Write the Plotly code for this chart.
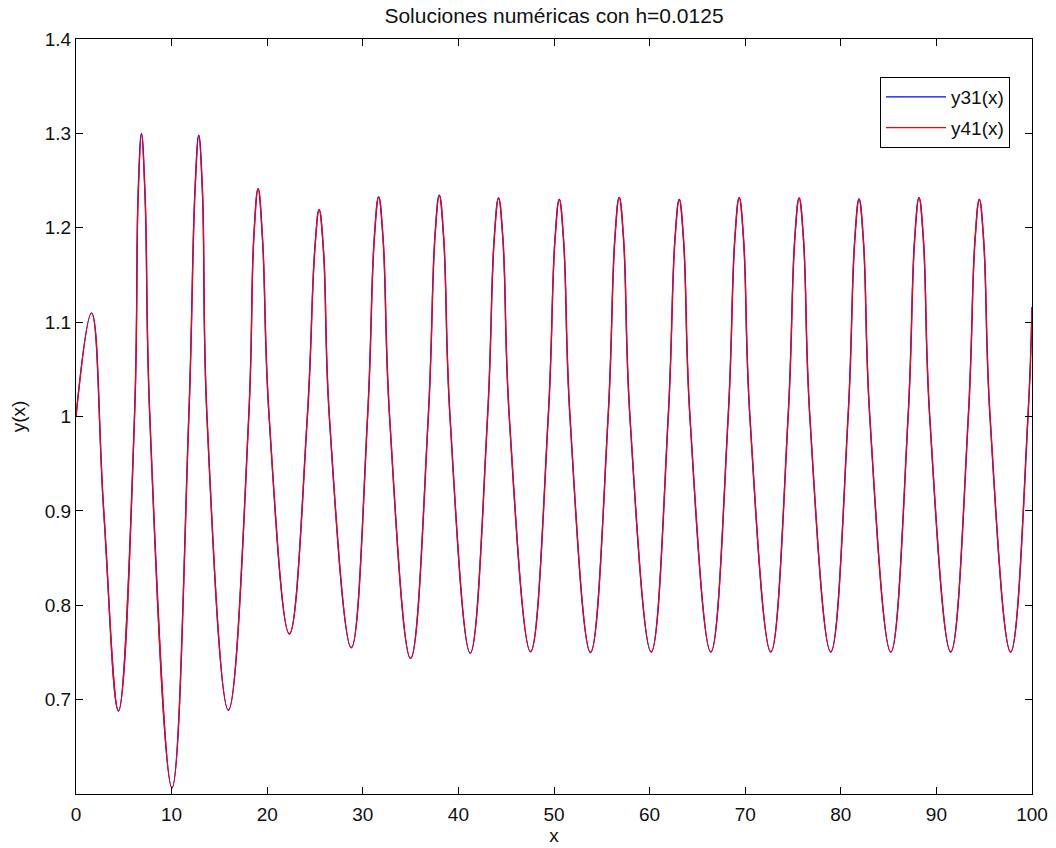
import plotly.graph_objects as go

# Points: extrema, shoulders near the peaks and 1.0-level crossings
x_vals = [0.0, 1.62, 2.9, 4.44,
          6.12, 6.5, 6.85, 7.22, 7.72, 10.04,
          11.8, 12.45, 12.84, 13.22, 13.7, 15.94,
          18.07, 18.6, 19.05, 19.5, 20.2, 22.32,
          24.2, 24.98, 25.43, 25.88, 26.5, 28.80,
          30.5, 31.21, 31.66, 32.11, 32.8, 35.0,
          36.85, 37.55, 38.0, 38.45, 39.12, 41.24,
          43.05, 43.75, 44.2, 44.65, 45.32, 47.55,
          49.4, 50.1, 50.55, 51.0, 51.67, 53.82,
          55.66, 56.37, 56.82, 57.27, 57.94, 60.17,
          61.95, 62.65, 63.1, 63.55, 64.22, 66.41,
          68.22, 68.92, 69.37, 69.82, 70.49, 72.68,
          74.49, 75.19, 75.64, 76.09, 76.76, 78.95,
          80.76, 81.46, 81.91, 82.36, 83.03, 85.23,
          87.04, 87.73, 88.18, 88.63, 89.3, 91.5,
          93.34, 94.04, 94.49, 94.94, 95.61, 97.77,
          99.58, 100.0]
y31_vals = [1.0, 1.1095, 0.90, 0.688,
            1.0, 1.235, 1.2998, 1.235, 1.0, 0.6066,
            1.0, 1.24, 1.298, 1.24, 1.0, 0.689,
            1.0, 1.19, 1.2415, 1.19, 1.0, 0.7696,
            1.0, 1.177, 1.2192, 1.177, 1.0, 0.755,
            1.0, 1.19, 1.2326, 1.19, 1.0, 0.7437,
            1.0, 1.191, 1.2344, 1.191, 1.0, 0.7494,
            1.0, 1.189, 1.2315, 1.189, 1.0, 0.7508,
            1.0, 1.187, 1.2301, 1.187, 1.0, 0.750,
            1.0, 1.189, 1.2322, 1.189, 1.0, 0.7505,
            1.0, 1.187, 1.230, 1.187, 1.0, 0.7505,
            1.0, 1.189, 1.2319, 1.189, 1.0, 0.7505,
            1.0, 1.189, 1.2315, 1.189, 1.0, 0.7505,
            1.0, 1.187, 1.2304, 1.187, 1.0, 0.7505,
            1.0, 1.189, 1.2319, 1.189, 1.0, 0.7505,
            1.0, 1.187, 1.2301, 1.187, 1.0, 0.7505,
            1.0, 1.116]
# the two numerical solutions coincide at this scale
y41_vals = list(y31_vals)

x_ticks = [0, 10, 20, 30, 40, 50, 60, 70, 80, 90, 100]
y_ticks = [0.7, 0.8, 0.9, 1.0, 1.1, 1.2, 1.3, 1.4]
y_tick_text = ["0.7", "0.8", "0.9", "1", "1.1", "1.2", "1.3", "1.4"]

FONT = "Liberation Sans, Arial, sans-serif"

fig = go.Figure()
fig.add_trace(go.Scatter(x=x_vals, y=y31_vals, mode="lines", name="y31(x)",
                         legendgroup="a",
                         line=dict(color="#0000ff", width=1.4, shape="spline", smoothing=1.2)))
fig.add_trace(go.Scatter(x=x_vals, y=y41_vals, mode="lines", name="y41(x)",
                         legendgroup="b",
                         line=dict(color="#ff0000", width=1.25, shape="spline", smoothing=1.2)))

axis_common = dict(showgrid=False, zeroline=False, showline=True, linecolor="black",
                   linewidth=1, mirror="ticks", ticks="inside", ticklen=7,
                   tickcolor="black", tickwidth=1, automargin=False,
                   tickfont=dict(family=FONT, size=19, color="#111"))

fig.update_layout(
    width=1056, height=848,
    margin=dict(l=76, r=24, t=39, b=54),
    paper_bgcolor="white", plot_bgcolor="white",
    title=dict(text="Soluciones numéricas con h=0.0125", x=0.5, xref="paper",
               y=0.981, yanchor="middle",
               font=dict(family=FONT, size=21, color="#111")),
    xaxis=dict(range=[0, 100], tickvals=x_ticks, ticktext=[str(v) for v in x_ticks],
               ticklabelstandoff=3,
               title=dict(text="x", standoff=4, font=dict(family=FONT, size=19, color="#111")),
               **axis_common),
    yaxis=dict(range=[0.6, 1.4], tickvals=y_ticks, ticktext=y_tick_text,
               title=dict(text="y(x)", standoff=14, font=dict(family=FONT, size=19, color="#111")),
               **axis_common),
    legend=dict(x=0.977, y=0.9497, xanchor="right", yanchor="top",
                bgcolor="white", bordercolor="black", borderwidth=1,
                font=dict(family=FONT, size=19, color="#111"),
                tracegroupgap=3, itemwidth=60),
    showlegend=True,
)

fig.write_html("out.html")
